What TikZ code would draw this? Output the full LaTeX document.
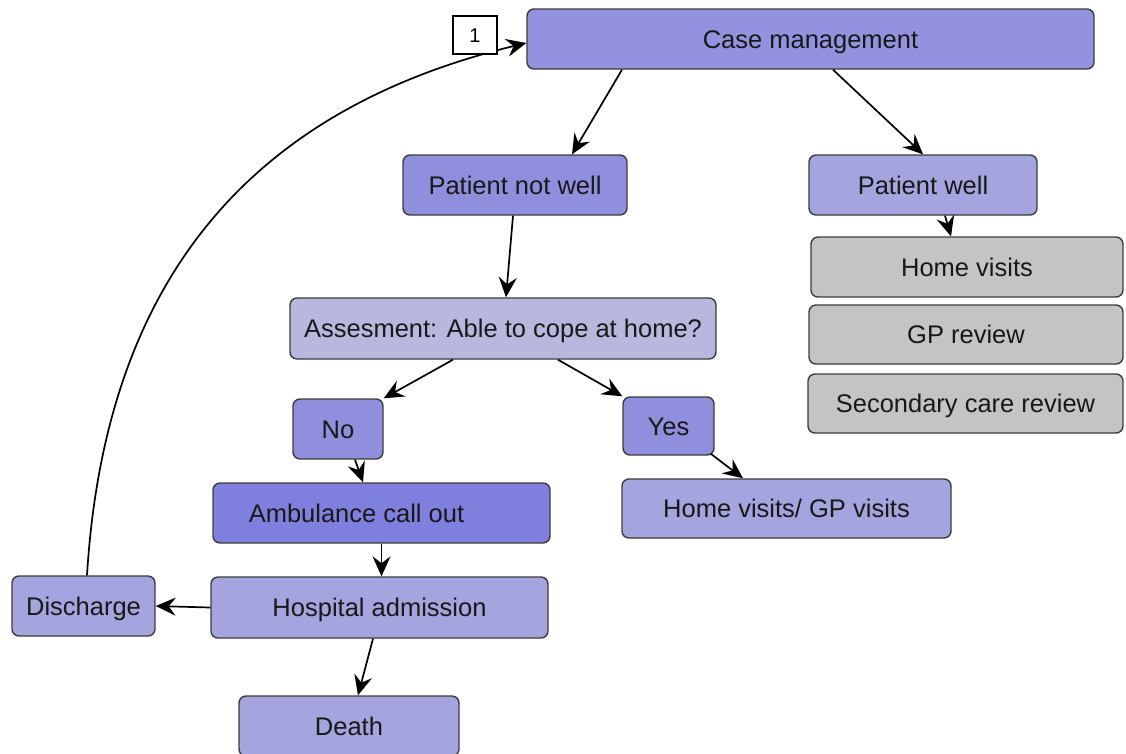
\documentclass[tikz,border=0pt]{standalone}
\usepackage{fontspec}
\setmainfont{Liberation Sans}
\usetikzlibrary{arrows.meta}

\definecolor{edge}{RGB}{60,60,60}
\definecolor{ink}{RGB}{24,24,24}
\definecolor{fillmain}{RGB}{146,146,222}
\definecolor{fillmid}{RGB}{143,143,222}
\definecolor{filllight}{RGB}{164,164,222}
\definecolor{fillpale}{RGB}{184,184,222}
\definecolor{filldark}{RGB}{127,127,222}
\definecolor{fillgrey}{RGB}{196,196,196}

\tikzset{
  box/.style={draw=edge, line width=1.4pt, rounded corners=7pt, inner sep=0pt,
    text=ink, font=\fontsize{25.5}{30}\selectfont, text height=18pt, text depth=0pt},
  flow/.style={line width=1.7pt, -{Stealth[length=20pt,width=18pt,inset=7pt]}},
  tag/.style={draw=black, line width=1.2pt, fill=white, inner sep=0pt,
    font=\fontsize{20}{24}\selectfont, text height=14pt, text depth=0pt}
}

\begin{document}
\begin{tikzpicture}[x=1pt,y=-1pt]
\useasboundingbox (0,0) rectangle (1126,753);

% top of the flow
\node[box, fill=fillmain, minimum width=567pt, minimum height=60pt] (cm) at (810.5,39) {Case management};
\node[box, fill=fillmid, minimum width=224pt, minimum height=60pt] (pnw) at (515,185) {Patient not well};
\node[box, fill=filllight, minimum width=228pt, minimum height=60pt] (pw) at (923,185) {Patient well};

% options for a patient who is well
\node[box, fill=fillgrey, minimum width=312pt, minimum height=60pt] (hv) at (967,267) {Home visits};
\node[box, fill=fillgrey, minimum width=314pt, minimum height=59pt] (gp) at (966,334.5) {GP review};
\node[box, fill=fillgrey, minimum width=315pt, minimum height=59pt] (scr) at (965.5,403.5) {Secondary care review};

% assessment branch
\node[box, fill=fillpale, minimum width=426pt, minimum height=61pt] (as) at (503,328.5) {Assesment: Able to cope at home?};
\node[box, fill=fillmid, minimum width=90pt, minimum height=60pt] (no) at (338,429) {No};
\node[box, fill=fillmid, minimum width=91pt, minimum height=58pt] (yes) at (668.5,426) {Yes};
\node[box, fill=filldark, minimum width=337pt, minimum height=60pt] (amb) at (381.5,513) {Ambulance call out\rule{50pt}{0pt}};
\node[box, fill=filllight, minimum width=329pt, minimum height=59pt] (hg) at (786.5,508.5) {Home visits/ GP visits};
\node[box, fill=filllight, minimum width=337pt, minimum height=61pt] (hosp) at (379.5,607.5) {Hospital admission};
\node[box, fill=filllight, minimum width=143pt, minimum height=60pt] (dis) at (83.5,606) {Discharge};
\node[box, fill=filllight, minimum width=220pt, minimum height=60pt] (death) at (349,726) {Death};

% connectors
\draw[flow] ([xshift=-188.5pt]cm.south) -- ([xshift=57pt]pnw.north);
\draw[flow] ([xshift=22.5pt]cm.south) -- (pw.north);
\draw[flow] ([xshift=-2pt]pnw.south) -- ([xshift=3pt]as.north);
\draw[flow] ([xshift=22pt]pw.south) -- ([xshift=-16pt]hv.north);
\draw[flow] ([xshift=-50pt]as.south) -- (no.north east);
\draw[flow] ([xshift=55pt]as.south) -- (yes.north west);
\draw[flow] ([xshift=17pt]no.south) -- ([xshift=-18.5pt]amb.north);
\draw[flow] ([xshift=-4pt,yshift=2pt]yes.south east) -- ([xshift=-43.5pt]hg.north);
\draw[flow] (amb.south) -- (amb.south |- hosp.north);
\draw[flow] (hosp.west) -- (dis.east);
\draw[flow] ([xshift=-6.5pt]hosp.south) -- ([xshift=9pt]death.north);

% return path from discharge to case management
\draw[flow] ([xshift=3.5pt]dis.north) .. controls (105,280) and (250,110) .. ([yshift=-4pt]cm.west);
\node[tag, minimum width=44pt, minimum height=38pt] (one) at (475,35) {1};
\end{tikzpicture}
\end{document}
